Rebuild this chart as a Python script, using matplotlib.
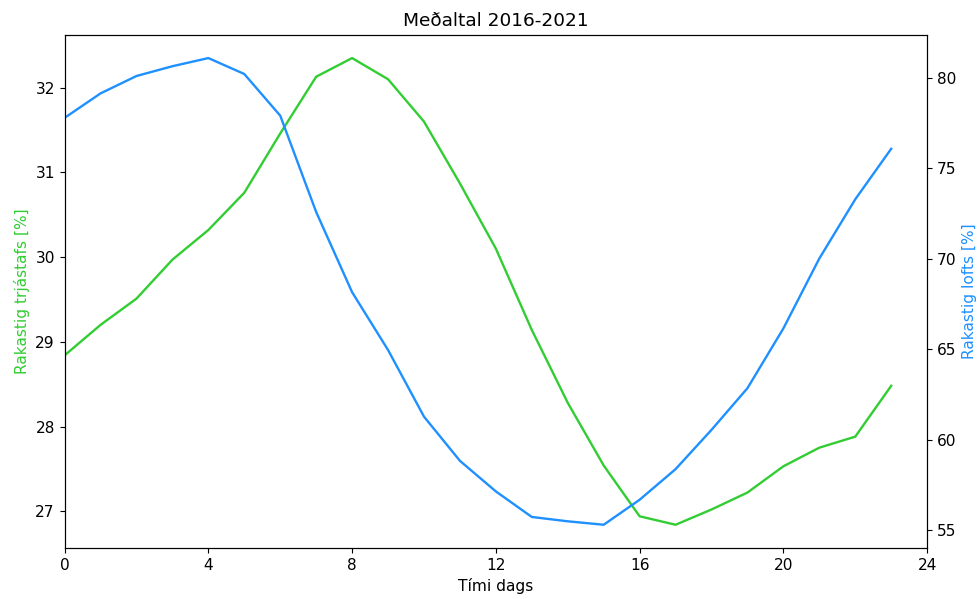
import numpy as np
import matplotlib
matplotlib.use("Agg")
import matplotlib.pyplot as plt

# Hourly mean moisture, 2016-2021
hours = np.arange(24)
rak_trjastafs = [28.84, 29.20, 29.51, 29.97, 30.32, 30.76, 31.46, 32.13,
                 32.35, 32.10, 31.60, 30.87, 30.10, 29.14, 28.28, 27.54,
                 26.94, 26.84, 27.02, 27.22, 27.53, 27.75, 27.88, 28.48]
rak_lofts = [77.78, 79.13, 80.09, 80.63, 81.08, 80.20, 77.90, 72.58,
             68.15, 64.96, 61.28, 58.84, 57.15, 55.74, 55.50, 55.31,
             56.69, 58.38, 60.55, 62.85, 66.15, 70.01, 73.28, 76.07]
xticks = [0, 4, 8, 12, 16, 20, 24]

green = "limegreen"
blue = "dodgerblue"

plt.rcParams["font.size"] = 11.1
plt.rcParams["axes.titlesize"] = 13.3

fig, ax1 = plt.subplots(figsize=(9.79, 5.99), dpi=100)
fig.subplots_adjust(left=0.066, right=0.947, top=0.942, bottom=0.085)

ax1.plot(hours, rak_trjastafs, color=green, lw=1.7)
ax1.set_ylabel("Rakastig trjástafs [%]", color=green)
ax1.set_xlabel("Tími dags")
ax1.set_xticks(xticks)
ax1.set_xlim(0, 24)

ax2 = ax1.twinx()
ax2.plot(hours, rak_lofts, color=blue, lw=1.7)
ax2.set_ylabel("Rakastig lofts [%]", color=blue)

ax1.set_title("Meðaltal 2016-2021")

fig.savefig("out.png")
